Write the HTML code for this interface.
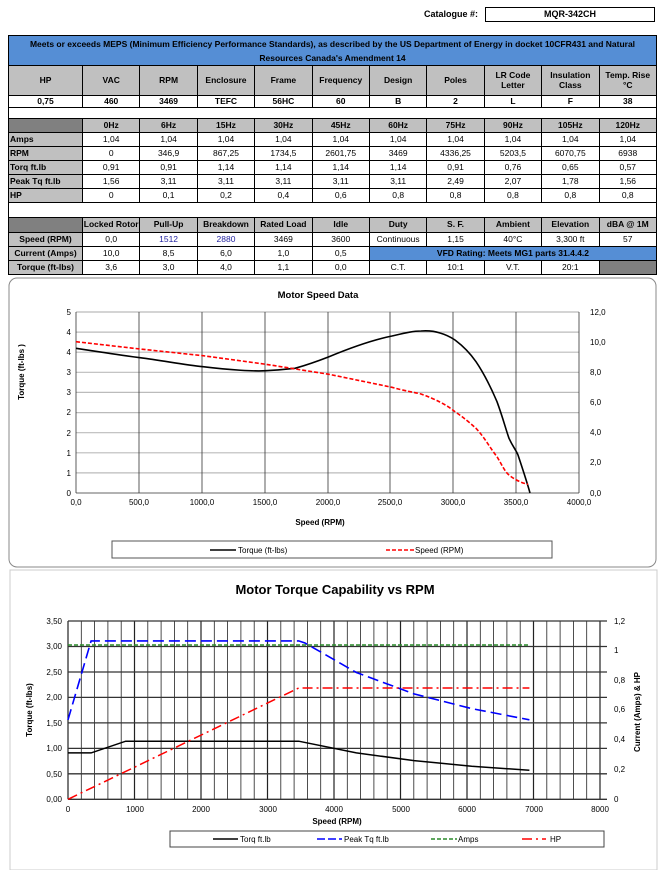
<!DOCTYPE html>
<html><head><meta charset="utf-8"><style>
body{margin:0;width:664px;height:870px;background:#fff;font-family:"Liberation Sans",sans-serif;position:relative;overflow:hidden}
.abs{position:absolute}
table{border-collapse:collapse;table-layout:fixed;font-size:8.5px;font-weight:bold}
td{border:1px solid #000;text-align:center;padding:0;overflow:hidden;white-space:nowrap;line-height:1.1}
.g{background:#c0c0c0}.d{background:#808080}.b{background:#558ed5}.l{text-align:left;padding-left:1px}
.n{font-weight:normal}
</style></head><body>
<div class="abs" style="left:424px;top:9px;font-size:9px;font-weight:bold">Catalogue #:</div>
<div class="abs" style="left:485px;top:7px;width:168px;height:13px;border:1.5px solid #000;font-size:9px;font-weight:bold;text-align:center;line-height:13px">MQR-342CH</div>
<table class="abs" style="left:8px;top:35px;width:649px">
<colgroup><col style="width:74px"><col span="10"></colgroup>
<tr style="height:30px"><td colspan="11" class="b" style="white-space:normal;line-height:14px">Meets or exceeds MEPS (Minimum Efficiency Performance Standards), as described by the US Department of Energy in docket 10CFR431 and Natural Resources Canada's Amendment 14</td></tr>
<tr style="height:30px" class="g"><td>HP</td><td>VAC</td><td>RPM</td><td>Enclosure</td><td>Frame</td><td>Frequency</td><td>Design</td><td>Poles</td><td style="white-space:normal">LR Code Letter</td><td style="white-space:normal">Insulation Class</td><td style="white-space:normal">Temp. Rise °C</td></tr>
<tr style="height:12px"><td>0,75</td><td>460</td><td>3469</td><td>TEFC</td><td>56HC</td><td>60</td><td>B</td><td>2</td><td>L</td><td>F</td><td>38</td></tr>
<tr style="height:11px"><td colspan="11"></td></tr>
<tr style="height:14px" class="g"><td class="d"></td><td>0Hz</td><td>6Hz</td><td>15Hz</td><td>30Hz</td><td>45Hz</td><td>60Hz</td><td>75Hz</td><td>90Hz</td><td>105Hz</td><td>120Hz</td></tr>
<tr style="height:14px" class="n"><td class="g l" style="font-weight:bold">Amps</td><td>1,04</td><td>1,04</td><td>1,04</td><td>1,04</td><td>1,04</td><td>1,04</td><td>1,04</td><td>1,04</td><td>1,04</td><td>1,04</td></tr>
<tr style="height:14px" class="n"><td class="g l" style="font-weight:bold">RPM</td><td>0</td><td>346,9</td><td>867,25</td><td>1734,5</td><td>2601,75</td><td>3469</td><td>4336,25</td><td>5203,5</td><td>6070,75</td><td>6938</td></tr>
<tr style="height:14px" class="n"><td class="g l" style="font-weight:bold">Torq ft.lb</td><td>0,91</td><td>0,91</td><td>1,14</td><td>1,14</td><td>1,14</td><td>1,14</td><td>0,91</td><td>0,76</td><td>0,65</td><td>0,57</td></tr>
<tr style="height:14px" class="n"><td class="g l" style="font-weight:bold">Peak Tq ft.lb</td><td>1,56</td><td>3,11</td><td>3,11</td><td>3,11</td><td>3,11</td><td>3,11</td><td>2,49</td><td>2,07</td><td>1,78</td><td>1,56</td></tr>
<tr style="height:14px" class="n"><td class="g l" style="font-weight:bold">HP</td><td>0</td><td>0,1</td><td>0,2</td><td>0,4</td><td>0,6</td><td>0,8</td><td>0,8</td><td>0,8</td><td>0,8</td><td>0,8</td></tr>
<tr style="height:15px"><td colspan="11"></td></tr>
<tr style="height:15px" class="g"><td class="d"></td><td>Locked Rotor</td><td>Pull-Up</td><td>Breakdown</td><td>Rated Load</td><td>Idle</td><td>Duty</td><td>S. F.</td><td>Ambient</td><td>Elevation</td><td>dBA @ 1M</td></tr>
<tr style="height:14px" class="n"><td class="g" style="font-weight:bold">Speed (RPM)</td><td>0,0</td><td style="color:#1f1f9f">1512</td><td style="color:#1f1f9f">2880</td><td>3469</td><td>3600</td><td>Continuous</td><td>1,15</td><td>40°C</td><td>3,300 ft</td><td>57</td></tr>
<tr style="height:14px" class="n"><td class="g" style="font-weight:bold">Current (Amps)</td><td>10,0</td><td>8,5</td><td>6,0</td><td>1,0</td><td>0,5</td><td colspan="5" class="b" style="font-weight:bold">VFD Rating: Meets MG1 parts 31.4.4.2</td></tr>
<tr style="height:14px" class="n"><td class="g" style="font-weight:bold">Torque (ft-lbs)</td><td>3,6</td><td>3,0</td><td>4,0</td><td>1,1</td><td>0,0</td><td>C.T.</td><td>10:1</td><td>V.T.</td><td>20:1</td><td class="d"></td></tr>
</table>

<svg class="abs" style="left:0;top:0" width="664" height="870" font-family="Liberation Sans, sans-serif">
<rect x="9" y="278" width="647" height="289" rx="8" fill="#fff" stroke="#888" stroke-width="1"/>
<text x="318" y="298" font-size="9.5" font-weight="bold" text-anchor="middle">Motor Speed Data</text>
<g stroke="#bbb" stroke-width="1.2">
<line x1="76" x2="579" y1="312" y2="312"/><line x1="76" x2="579" y1="332.1" y2="332.1"/><line x1="76" x2="579" y1="352.2" y2="352.2"/><line x1="76" x2="579" y1="372.3" y2="372.3"/><line x1="76" x2="579" y1="392.4" y2="392.4"/><line x1="76" x2="579" y1="412.6" y2="412.6"/><line x1="76" x2="579" y1="432.7" y2="432.7"/><line x1="76" x2="579" y1="452.8" y2="452.8"/><line x1="76" x2="579" y1="472.9" y2="472.9"/></g>
<g stroke="#333" stroke-width="0.8">
<line x1="139" x2="139" y1="312" y2="493"/><line x1="202" x2="202" y1="312" y2="493"/><line x1="265" x2="265" y1="312" y2="493"/><line x1="328" x2="328" y1="312" y2="493"/><line x1="390" x2="390" y1="312" y2="493"/><line x1="453" x2="453" y1="312" y2="493"/><line x1="516" x2="516" y1="312" y2="493"/><line x1="579" x2="579" y1="312" y2="493"/>
<line x1="76" x2="76" y1="312" y2="493"/><line x1="76" x2="579" y1="493" y2="493"/></g>
<g font-size="8" text-anchor="end"><text x="71" y="315">5</text><text x="71" y="335">4</text><text x="71" y="355">4</text><text x="71" y="375">3</text><text x="71" y="395">3</text><text x="71" y="415">2</text><text x="71" y="436">2</text><text x="71" y="456">1</text><text x="71" y="476">1</text><text x="71" y="496">0</text></g>
<g font-size="8"><text x="590" y="315">12,0</text><text x="590" y="345">10,0</text><text x="590" y="375">8,0</text><text x="590" y="405">6,0</text><text x="590" y="435">4,0</text><text x="590" y="465">2,0</text><text x="590" y="496">0,0</text></g>
<g font-size="8" text-anchor="middle"><text x="76" y="505">0,0</text><text x="139" y="505">500,0</text><text x="202" y="505">1000,0</text><text x="265" y="505">1500,0</text><text x="328" y="505">2000,0</text><text x="390" y="505">2500,0</text><text x="453" y="505">3000,0</text><text x="516" y="505">3500,0</text><text x="579" y="505">4000,0</text></g>
<text x="320" y="525" font-size="8" font-weight="bold" text-anchor="middle">Speed (RPM)</text>
<text transform="translate(24,372) rotate(-90)" font-size="8" font-weight="bold" text-anchor="middle">Torque (ft-lbs )</text>
<path d="M76,348.3 C100,352 120,355 140,357.7 C165,361 185,365 203,366.7 C230,370 255,371.5 266,370.7 C280,370 288,369 295,368.3 C310,364 318,361 329,356.7 C350,348 372,340 392,336 C405,333 413,331 421,331 C428,330.5 434,331 440,333 C447,335 452,338 455,340 C463,346 470,353 476,361.7 C485,375 492,390 497,401.7 C503,418 506,430 509,438.3 C513,447 516,450 518,455 C523,470 527,482 530,493" fill="none" stroke="#000" stroke-width="1.6"/>
<path d="M76,341.7 L140,349 L203,355.7 L266,364.3 L329,374.3 L392,387.3 C405,391 413,392 421,394 C435,399 447,405 455,411.7 C463,417 470,423 476,428.3 C485,438 490,448 497,456.7 C502,465 505,472 509,475 C515,480 522,483 528,484.3" fill="none" stroke="#f00" stroke-width="1.6" stroke-dasharray="4,2"/>
<rect x="112" y="541" width="440" height="17" fill="#fff" stroke="#555" stroke-width="1"/>
<line x1="210" x2="236" y1="550" y2="550" stroke="#000" stroke-width="1.6"/><text x="238" y="553" font-size="8">Torque (ft-lbs)</text>
<line x1="386" x2="414" y1="550" y2="550" stroke="#f00" stroke-width="1.6" stroke-dasharray="4,2"/><text x="415" y="553" font-size="8">Speed (RPM)</text>

<rect x="10" y="570" width="647" height="300" fill="#fff" stroke="#ccc" stroke-width="1"/>
<text x="335" y="594" font-size="13" font-weight="bold" text-anchor="middle">Motor Torque Capability vs RPM</text>
<g id="vg" stroke="#222" stroke-width="0.8"></g>
<g stroke="#333" stroke-width="1.3">
<line x1="68" x2="607" y1="621" y2="621"/><line x1="68" x2="607" y1="646.5" y2="646.5"/><line x1="68" x2="607" y1="672" y2="672"/><line x1="68" x2="607" y1="697.4" y2="697.4"/><line x1="68" x2="607" y1="722.9" y2="722.9"/><line x1="68" x2="607" y1="748.4" y2="748.4"/><line x1="68" x2="607" y1="773.8" y2="773.8"/><line x1="68" x2="607" y1="799.3" y2="799.3"/></g>
<g font-size="8" text-anchor="end"><text x="62" y="624">3,50</text><text x="62" y="649">3,00</text><text x="62" y="675">2,50</text><text x="62" y="700">2,00</text><text x="62" y="726">1,50</text><text x="62" y="751">1,00</text><text x="62" y="777">0,50</text><text x="62" y="802">0,00</text></g>
<g font-size="8"><text x="614" y="624">1,2</text><text x="614" y="653">1</text><text x="614" y="683">0,8</text><text x="614" y="712">0,6</text><text x="614" y="742">0,4</text><text x="614" y="772">0,2</text><text x="614" y="802">0</text></g>
<g font-size="8" text-anchor="middle"><text x="68" y="812">0</text><text x="135" y="812">1000</text><text x="201" y="812">2000</text><text x="268" y="812">3000</text><text x="334" y="812">4000</text><text x="401" y="812">5000</text><text x="467" y="812">6000</text><text x="534" y="812">7000</text><text x="600" y="812">8000</text></g>
<text x="337" y="824" font-size="8" font-weight="bold" text-anchor="middle">Speed (RPM)</text>
<text transform="translate(32,710) rotate(-90)" font-size="8" font-weight="bold" text-anchor="middle">Torque (ft-lbs)</text>
<text transform="translate(640,712) rotate(-90)" font-size="8" font-weight="bold" text-anchor="middle">Current (Amps) &amp; HP</text>
<polyline points="68,752.9 91.1,752.9 125.7,741.2 298.7,741.2 356.4,752.9 414,760.6 471.7,766.2 529.4,770.3" fill="none" stroke="#000" stroke-width="1.5"/>
<polyline points="68,719.8 91.1,640.9 298.7,640.9 305,643 356.4,672.5 414,693.9 471.7,708.6 529.4,719.8" fill="none" stroke="#00f" stroke-width="1.6" stroke-dasharray="11,5"/>
<line x1="68" x2="529.4" y1="645" y2="645" stroke="#2a8a2a" stroke-width="1.6" stroke-dasharray="4,2"/>
<polyline points="68,799.3 298.7,688 529.4,688" fill="none" stroke="#f00" stroke-width="1.5" stroke-dasharray="10,4,2,4"/>
<rect x="170" y="831" width="434" height="16" fill="#fff" stroke="#444" stroke-width="1"/>
<line x1="213" x2="238" y1="839" y2="839" stroke="#000" stroke-width="1.5"/><text x="240" y="842" font-size="8">Torq ft.lb</text>
<line x1="317" x2="342" y1="839" y2="839" stroke="#00f" stroke-width="1.5" stroke-dasharray="8,3"/><text x="344" y="842" font-size="8">Peak Tq ft.lb</text>
<line x1="431" x2="457" y1="839" y2="839" stroke="#2a8a2a" stroke-width="1.5" stroke-dasharray="4,2"/><text x="458" y="842" font-size="8">Amps</text>
<line x1="522" x2="546" y1="839" y2="839" stroke="#f00" stroke-width="1.5" stroke-dasharray="10,4,2,4"/><text x="550" y="842" font-size="8">HP</text>
</svg>
<script>
var g=document.getElementById('vg'),s='';
for(var i=0;i<=40;i++){var x=68+i*13.3;s+='<line x1="'+x+'" x2="'+x+'" y1="621" y2="799.3" stroke-width="'+(i%5==0?1.2:0.8)+'"/>';}
g.innerHTML=s;
</script>
</body></html>
